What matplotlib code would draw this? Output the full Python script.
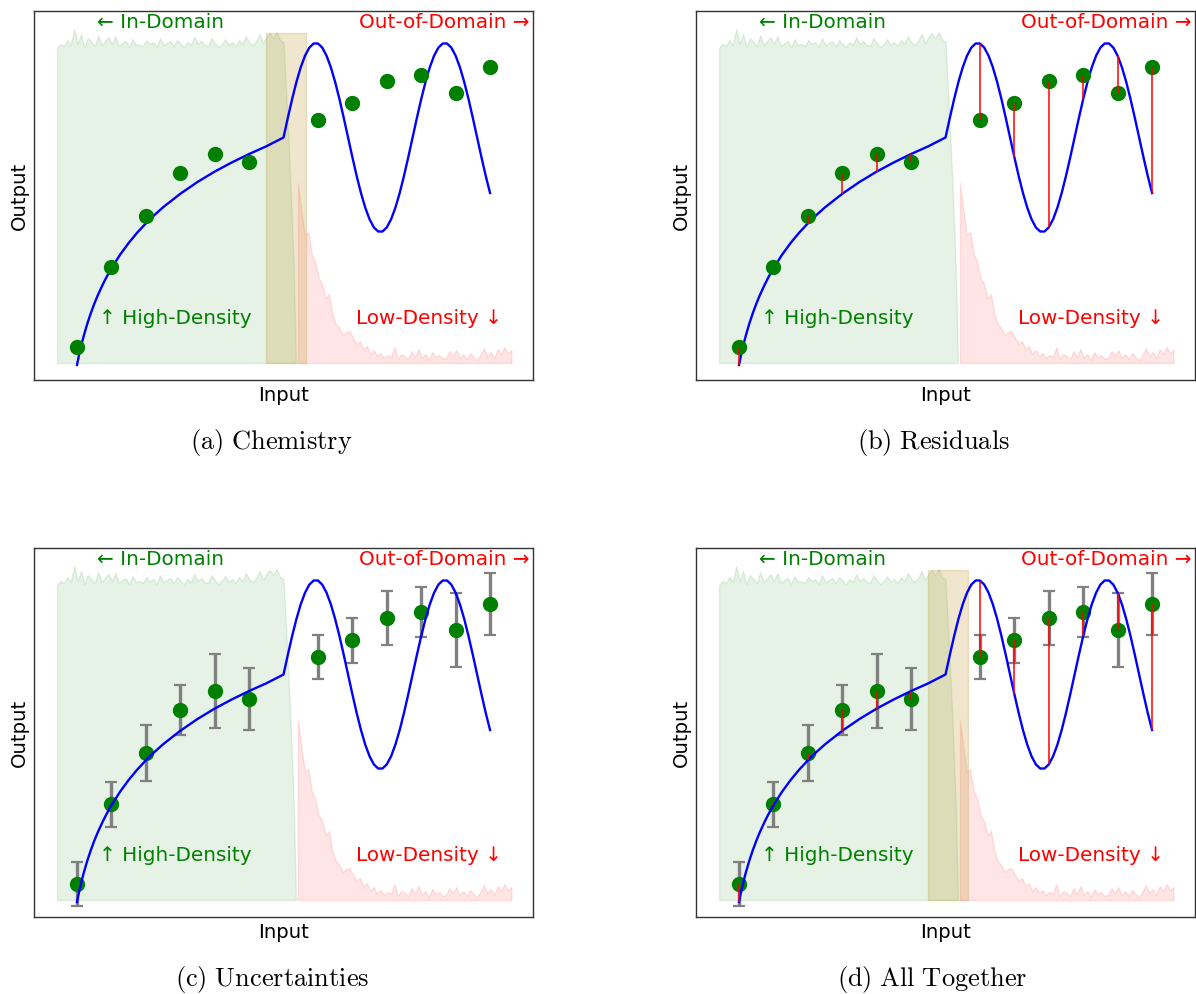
import numpy as np
import matplotlib.pyplot as plt

plt.rcParams['mathtext.fontset'] = 'cm'

# observed points (input index, output)
pt_x = [0, 1, 2, 3, 4, 5, 7, 8, 9, 10, 11, 12]
pt_y = [3.3, 11.3, 16.4, 20.7, 22.6, 21.8, 26.0, 27.7, 29.9, 30.5, 28.7, 31.3]
pt_err = [2.2, 2.25, 2.8, 2.5, 3.7, 3.1, 2.2, 2.25, 2.7, 2.5, 3.7, 3.1]

# model curve: smooth part up to x=6, oscillating part after
fit_x = [0, 0.025, 0.05, 0.1, 0.15, 0.2, 0.3, 0.4, 0.5, 0.6, 0.75, 0.85, 1,
         1.25, 1.5, 1.75, 2, 2.25, 2.5, 3, 3.5, 4, 4.5, 5, 5.5]
fit_y = [1.5, 1.93, 2.34, 3.10, 3.81, 4.46, 5.64, 6.67, 7.60, 8.44, 9.56, 10.24,
         11.17, 12.52, 13.70, 14.74, 15.66, 16.50, 17.27, 18.62, 19.80, 20.84,
         21.76, 22.60, 23.37]
ood_x = np.arange(6.0, 12.0001, 0.125)
ood_y = [24.25, 26.21, 28.09, 29.80, 31.27, 32.43, 33.24, 33.65, 33.65, 33.24,
         32.43, 31.27, 29.80, 28.09, 26.21, 24.25, 22.29, 20.41, 18.70, 17.23,
         16.07, 15.26, 14.85, 14.85, 15.26, 16.07, 17.23, 18.70, 20.41, 22.29,
         24.25, 26.21, 28.09, 29.80, 31.27, 32.43, 33.24, 33.65, 33.65, 33.24,
         32.43, 31.27, 29.80, 28.09, 26.21, 24.25, 22.29, 20.41, 18.70]

# training-data density (green) and test density (red)
dens_base = 1.7
green_top = [33.2, 33.6, 33.4, 34.0, 33.5, 35.1, 33.6, 34.6, 33.3, 34.2,
             33.8, 33.4, 34.5, 33.5, 33.9, 34.3, 33.6, 34.4, 33.4, 33.7,
             33.9, 33.3, 34.1, 33.5, 33.6, 33.4, 34.0, 33.6, 33.8, 33.3,
             34.2, 33.5, 33.7, 33.9, 33.4, 34.0, 33.6, 33.3, 33.8, 33.5,
             34.3, 33.6, 33.9, 33.5, 33.4, 34.2, 33.7, 33.3, 33.6, 34.1,
             33.5, 33.8, 33.4, 34.0, 33.6, 34.4, 33.8, 33.5, 33.9, 34.6,
             33.7, 34.3, 34.7, 34.2, 34.8, 34.0, 33.8]
green_tail_x = [6.1, 6.2, 6.3, 6.36]
green_tail_y = [27.0, 20.0, 11.0, 1.7]
red_top = [19.7, 17.0, 14.5, 14.8, 12.6, 11.8, 10.2, 9.6, 8.2, 8.6,
           6.6, 5.6, 5.2, 4.5, 4.8, 4.9, 4.2, 3.6, 3.9, 3.1,
           3.4, 2.6, 3.0, 2.4, 2.7, 2.2, 2.5, 2.3, 3.3, 2.1,
           2.6, 2.4, 2.1, 2.9, 2.3, 3.1, 2.2, 2.6, 2.0, 2.8,
           2.3, 2.5, 2.1, 2.2, 2.9, 2.4, 3.0, 2.2, 2.6, 2.1,
           2.7, 2.3, 2.0, 2.5, 3.2, 2.4, 2.8, 2.2, 3.1, 2.6,
           3.3, 2.7, 3.0]

band = (5.49, 6.65, 34.7)

captions = ['(a) Chemistry', '(b) Residuals', '(c) Uncertainties', '(d) All Together']

curve_x = np.concatenate([fit_x, ood_x])
curve_y = np.concatenate([fit_y, ood_y])
green_x = np.concatenate([np.linspace(-0.58, 6.0, len(green_top)), green_tail_x])
green_y = np.concatenate([green_top, green_tail_y])
red_x = np.linspace(6.42, 12.62, len(red_top))


def draw(ax, residuals=False, errors=False, shade=False):
    ax.fill_between(green_x, dens_base, green_y, color='green', alpha=0.1, lw=1, zorder=1)
    ax.fill_between(red_x, dens_base, red_top, color='red', alpha=0.1, lw=1, zorder=1)
    if shade:
        ax.fill_between([band[0], band[1]], dens_base, band[2], color='darkgoldenrod',
                        alpha=0.2, lw=1, zorder=1.5)
    if errors:
        # points with error bars sit under the model curve
        ax.errorbar(pt_x, pt_y, yerr=pt_err, fmt='o', color='green', ms=10,
                    ecolor='gray', elinewidth=2.4, capsize=4.6, capthick=1.6, zorder=2)
    else:
        ax.plot(pt_x, pt_y, 'o', color='green', ms=10, zorder=4)
    ax.plot(curve_x, curve_y, color='blue', lw=1.7, zorder=3)
    if residuals:
        on_curve = np.interp(pt_x, curve_x, curve_y)
        ax.vlines(pt_x, pt_y, on_curve, color='red', lw=1.1, zorder=5)

    kw = dict(transform=ax.transAxes, fontsize=14.4, va='center', zorder=6)
    ax.text(0.126, 0.970, '← In-Domain', color='green', ha='left', **kw)
    ax.text(0.993, 0.970, 'Out-of-Domain →', color='red', ha='right', **kw)
    ax.text(0.130, 0.168, '↑ High-Density', color='green', ha='left', **kw)
    ax.text(0.938, 0.168, 'Low-Density ↓', color='red', ha='right', **kw)

    ax.set_xlim(-1.249, 13.248)
    ax.set_ylim(0, 36.9)
    ax.set_xticks([])
    ax.set_yticks([])
    ax.set_xlabel('Input', fontsize=14.2)
    ax.set_ylabel('Output', fontsize=14.2)
    for s in ax.spines.values():
        s.set_color('#333333')
        s.set_linewidth(1.0)


fig = plt.figure(figsize=(11.96, 9.94), dpi=100)
W, H = 1196, 994
boxes = [(34, 11), (696, 11), (34, 548), (696, 548)]
opts = [dict(shade=True), dict(residuals=True), dict(errors=True),
        dict(residuals=True, errors=True, shade=True)]
cap_pos = [(271, 449), (933, 449), (272, 986), (932, 986)]

for (left, top), o, cap, (cx, cy) in zip(boxes, opts, captions, cap_pos):
    ax = fig.add_axes([left / W, 1 - (top + 369) / H, 499 / W, 369 / H])
    draw(ax, **o)
    fig.text(cx / W, 1 - cy / H, r'$\mathrm{' + cap.replace(' ', r'\ ') + '}$',
             ha='center', va='baseline', fontsize=19)

fig.savefig('out.png', dpi=100)
